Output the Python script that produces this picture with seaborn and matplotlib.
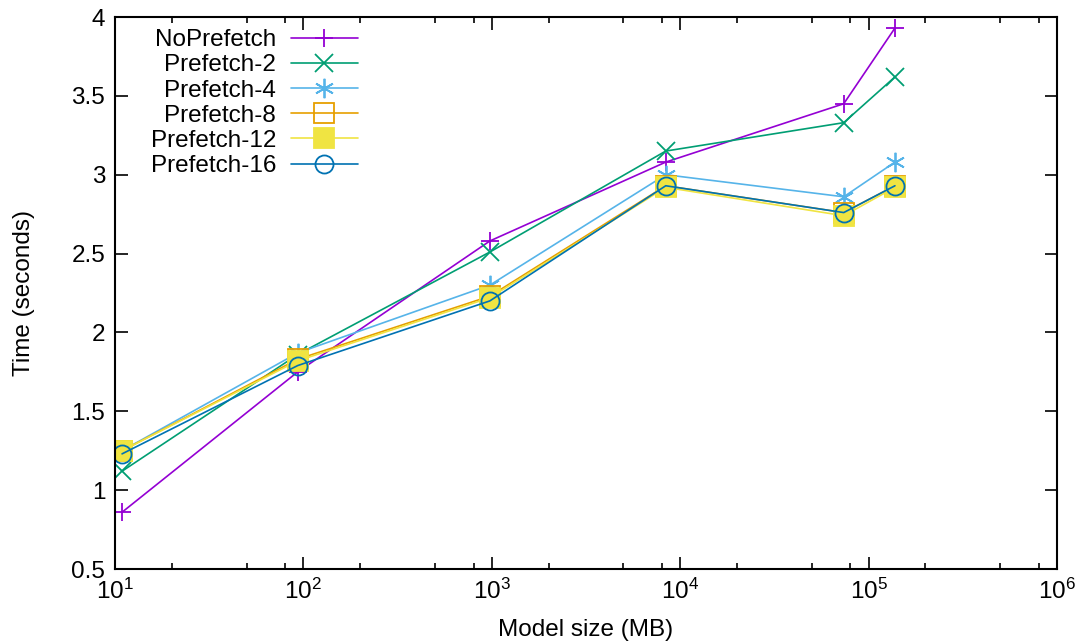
import numpy as np
import pandas as pd
import matplotlib
matplotlib.use("Agg")
import matplotlib.pyplot as plt
import seaborn as sns
from matplotlib.ticker import LogLocator, FixedLocator, NullFormatter

# ---- data ----
model_size = [10.9, 93.3, 977, 8380, 73800, 138000]
series_names = ["NoPrefetch", "Prefetch-2", "Prefetch-4", "Prefetch-8", "Prefetch-12", "Prefetch-16"]
no_prefetch = [0.86, 1.75, 2.58, 3.08, 3.45, 3.93]
prefetch_2 = [1.12, 1.86, 2.51, 3.15, 3.33, 3.62]
prefetch_4 = [1.25, 1.87, 2.30, 3.00, 2.86, 3.08]
prefetch_8 = [1.25, 1.83, 2.23, 2.93, 2.76, 2.93]
prefetch_12 = [1.25, 1.82, 2.22, 2.92, 2.74, 2.92]
prefetch_16 = [1.23, 1.79, 2.20, 2.93, 2.76, 2.93]
y_ticks = [0.5, 1, 1.5, 2, 2.5, 3, 3.5, 4]
y_tick_labels = ["0.5", "1", "1.5", "2", "2.5", "3", "3.5", "4"]

all_values = [no_prefetch, prefetch_2, prefetch_4, prefetch_8, prefetch_12, prefetch_16]
df = pd.DataFrame({
    "size": np.tile(model_size, len(series_names)),
    "time": np.concatenate(all_values),
    "series": np.repeat(series_names, len(model_size)),
})

# ---- style ----
sns.set_style("ticks")
plt.rcParams["font.family"] = ["Liberation Sans", "DejaVu Sans"]
plt.rcParams["mathtext.fontset"] = "custom"
plt.rcParams["mathtext.rm"] = "Liberation Sans"
plt.rcParams["mathtext.it"] = "Liberation Sans"
plt.rcParams["text.color"] = "black"
plt.rcParams["axes.labelcolor"] = "black"
plt.rcParams["xtick.color"] = "black"
plt.rcParams["ytick.color"] = "black"
plt.rcParams["axes.edgecolor"] = "black"

FS = 17.5
colors = ["#9400d3", "#009e73", "#56b4e9", "#e69f00", "#f0e442", "#0072b2"]
markers = ["+", "x", (6, 2, 0), "s", "s", "o"]
msizes = [13, 13, 14, 14, 14, 13]
facecolors = ["none", "none", "none", "none", "#f0e442", "none"]

fig = plt.figure(figsize=(10.79, 6.44), dpi=100)
ax = fig.add_axes([115 / 1079, 1 - 569 / 644, (1057 - 115) / 1079, (569 - 17) / 644])

for i, name in enumerate(series_names):
    sub = df[df["series"] == name]
    sns.lineplot(data=sub, x="size", y="time", ax=ax, color=colors[i],
                 marker=markers[i], markersize=msizes[i],
                 markerfacecolor=facecolors[i], markeredgecolor=colors[i],
                 markeredgewidth=1.3, linewidth=1.2, label=name,
                 estimator=None, sort=False)

ax.set_xscale("log")
ax.set_xlim(10, 1e6)
ax.set_ylim(0.5, 4)
ax.yaxis.set_major_locator(FixedLocator(y_ticks))
ax.set_yticklabels(y_tick_labels)
ax.xaxis.set_major_locator(LogLocator(base=10, numticks=10))
ax.xaxis.set_minor_locator(LogLocator(base=10, subs=[2, 5, 8], numticks=10))
ax.xaxis.set_minor_formatter(NullFormatter())
ax.tick_params(axis="both", which="major", direction="in", length=9, width=1.2,
               top=True, right=True, labelsize=FS, pad=7)
ax.tick_params(axis="x", which="minor", direction="in", length=4.5, width=1.2, top=True)
ax.tick_params(axis="y", which="minor", left=False, right=False)
for sp in ax.spines.values():
    sp.set_linewidth(1.5)
    sp.set_visible(True)

ax.set_xlabel("Model size (MB)", fontsize=FS, labelpad=11)
ax.set_ylabel("Time (seconds)", fontsize=FS, labelpad=26)

leg = ax.legend(loc="upper left", bbox_to_anchor=(0.025, 1.0), frameon=False,
                markerfirst=False, fontsize=FS, handlelength=2.75,
                labelspacing=0.13, borderaxespad=0.3, handletextpad=0.6,
                borderpad=0.2)

fig.savefig("out.png", dpi=100)
